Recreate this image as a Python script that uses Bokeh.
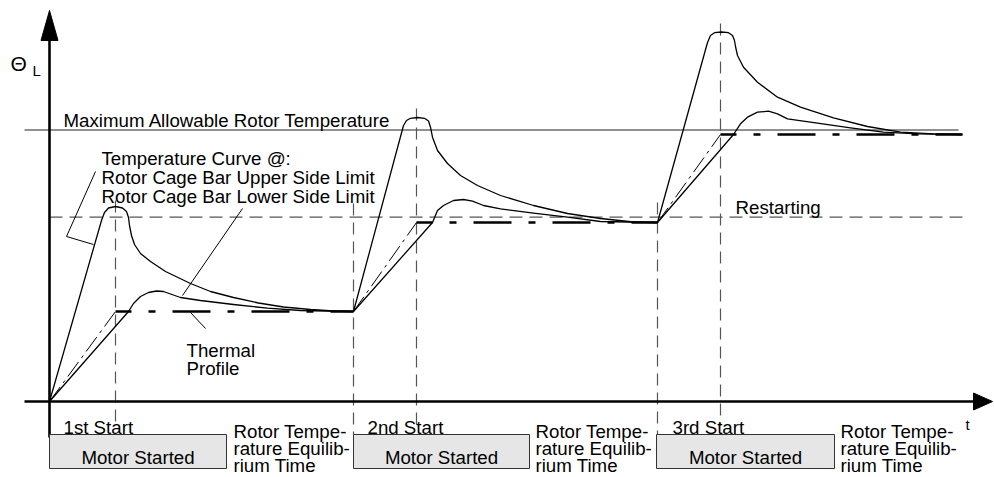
from bokeh.plotting import figure
from bokeh.models import Range1d
from bokeh.core.properties import value
from bokeh.embed import file_html
from bokeh.resources import INLINE

# ---------------- data (t = time units, theta = temperature units) ----------------
phase_start = [0, 304, 608]
phase_end = [66, 367, 671]
equilibrium = [90, 179, 267]
t_final = 911
max_allowable = 271.5
restart_level = 184.3

# Temperature curve, rotor cage bar upper side limit (per start)
upper1_t = [0, 52, 55, 59, 66, 73, 77, 79, 80, 82, 85, 91, 101, 116, 141, 161, 184, 209, 234, 261, 284, 304]
upper1_th = [0, 181, 189, 193.5, 195, 193.5, 190, 184, 176, 166, 157, 148, 140, 130, 118, 110, 104, 98.5, 94.5, 92, 90.5, 90]
upper2_t = [304, 354, 357, 361, 368, 375, 379, 381, 383, 388, 398, 411, 428, 451, 484, 518, 551, 584, 608]
upper2_th = [90, 276, 281, 283.2, 284, 283.2, 280.5, 274.3, 264.3, 251, 238, 226, 216, 206, 196, 188, 183, 179.5, 179]
upper3_t = [608, 658, 661, 665, 672, 679, 683, 685, 686, 688, 694, 708, 728, 751, 784, 818, 851, 884, 911]
upper3_th = [179, 359, 366, 368.8, 369.5, 368.8, 366, 361, 355, 346, 334.3, 319.3, 304.3, 294.3, 283.7, 275, 269.3, 267.7, 267]

# Temperature curve, rotor cage bar lower side limit (per start)
lower1_t = [0, 79, 84, 91, 99, 107, 114, 121, 131, 151, 184, 218, 251, 304]
lower1_th = [0, 90, 98, 105, 109, 110.5, 110, 107.5, 104, 101, 97, 93.3, 91, 90]
lower2_t = [304, 383, 388, 394, 404, 414, 423, 434, 451, 484, 518, 551, 608]
lower2_th = [90, 179, 191, 196, 201, 202, 200.3, 196, 192.7, 188.3, 184.3, 180, 179]
lower3_t = [608, 684, 691, 698, 708, 719, 728, 738, 768, 801, 834, 868, 913]
lower3_th = [179, 267, 277.7, 284.3, 289.3, 290.3, 287.7, 282.7, 278.3, 273.7, 269.3, 267.7, 267]

# guide lines
vguide_t = [66, 304, 367, 608, 671]
vguide_top = [201, 198, 293, 199, 378]
vguide_bottom = [-24, -33, -24, -33, -24]

# pointer lines
ptr_upper_t = [46, 17, 44]
ptr_upper_th = [230, 165, 157]
ptr_lower_t = [193, 133]
ptr_lower_th = [193, 106]
ptr_profile_t = [141, 156]
ptr_profile_th = [89, 73]

# axes geometry
x_axis_from, x_axis_to, x_tip = -25, 924, 943
y_axis_from, y_axis_to, y_tip = -36, 361, 391
head_half = 8.5

# "Motor Started" bars
bar_left = [0, 304, 607]
bar_right = [177, 480, 785]
bar_top, bar_bottom = -33, -67

# texts
curve_labels = ["Temperature Curve @:", "Rotor Cage Bar Upper Side Limit", "Rotor Cage Bar Lower Side Limit"]
curve_label_t = [52, 52, 52]
curve_label_th = [243, 224, 205]
misc_labels = ["Maximum Allowable Rotor Temperature", "Restarting", "Thermal", "Profile",
               "1st Start", "2nd Start", "3rd Start"]
misc_label_t = [14, 686, 137, 137, 14, 318, 623]
misc_label_th = [281, 194, 51, 33, -26, -26, -26]
eq_lines = ["Rotor Tempe-", "rature Equilib-", "rium Time"]
eq_label_t = [184, 486, 791]
eq_line_th = [-30, -47, -64]

FONT = value("Liberation Sans")
FS = "18.7px"

p = figure(width=994, height=477, output_backend="svg", toolbar_location=None,
           x_range=Range1d(-49, 945), y_range=Range1d(-76, 401),
           x_axis_location=None, y_axis_location=None, min_border=0,
           outline_line_color=None, background_fill_color="white", border_fill_color="white")
p.grid.grid_line_color = None

# max allowable & restarting lines
p.line([x_axis_from, 909], [max_allowable, max_allowable], line_color="#222222", line_width=1)
p.line([0, 913], [restart_level, restart_level], line_color="#555555", line_width=1.2, line_dash="13 7")

# vertical guides
for t, top, bot in zip(vguide_t, vguide_top, vguide_bottom):
    p.line([t, t], [top, bot], line_color="#555555", line_width=1.2, line_dash="12 7")

# thermal profile
prev = [0] + equilibrium[:-1]
stops = phase_start[1:] + [913]
for s, e, eq, pv, stp in zip(phase_start, phase_end, equilibrium, prev, stops):
    p.line([s, e], [pv, eq], line_color="black", line_width=1, line_dash="18 5 3 5")
    p.line([e, stp], [eq, eq], line_color="black", line_width=2.6, line_dash="38 17 7 17",
           line_dash_offset=22)

# temperature curves
for xs, ys in [(upper1_t, upper1_th), (upper2_t, upper2_th), (upper3_t, upper3_th),
               (lower1_t, lower1_th), (lower2_t, lower2_th), (lower3_t, lower3_th)]:
    p.line(xs, ys, line_color="black", line_width=1.3, line_join="round")

# pointers
p.line(ptr_upper_t, ptr_upper_th, line_color="black", line_width=1)
p.line(ptr_lower_t, ptr_lower_th, line_color="black", line_width=1)
p.line(ptr_profile_t, ptr_profile_th, line_color="black", line_width=1)

# axes with arrows
p.line([x_axis_from, x_axis_to], [0, 0], line_color="black", line_width=2.6)
p.patch([x_axis_to, x_tip, x_axis_to], [head_half, 0, -head_half], fill_color="black", line_color="black")
p.line([0, 0], [y_axis_from, y_axis_to], line_color="black", line_width=2.6)
p.patch([-head_half, 0, head_half], [y_axis_to, y_tip, y_axis_to], fill_color="black", line_color="black")

# motor started bars
p.quad(left=bar_left, right=bar_right, top=bar_top, bottom=bar_bottom,
       fill_color="#e6e6e6", line_color="#333333", line_width=1)
p.text(x=[(l + r) / 2 for l, r in zip(bar_left, bar_right)], y=[-56] * 3, text=["Motor Started"] * 3,
       text_font=FONT, text_font_size=FS, text_align="center", text_baseline="alphabetic", text_color="black")

# labels
p.text(x=curve_label_t, y=curve_label_th, text=curve_labels, text_font=FONT, text_font_size=FS,
       text_align="left", text_baseline="alphabetic", text_color="black")
p.text(x=misc_label_t, y=misc_label_th, text=misc_labels, text_font=FONT, text_font_size=FS,
       text_align="left", text_baseline="alphabetic", text_color="black")
for t in eq_label_t:
    p.text(x=[t] * 3, y=eq_line_th, text=eq_lines, text_font=FONT, text_font_size=FS,
           text_align="left", text_baseline="alphabetic", text_color="black")

# axis titles
p.text(x=[-39], y=[338], text=["Θ"], text_font=FONT, text_font_size="21px",
       text_align="left", text_baseline="alphabetic", text_color="black")
p.text(x=[-17], y=[331], text=["L"], text_font=FONT, text_font_size="15px",
       text_align="left", text_baseline="alphabetic", text_color="black")
p.text(x=[916], y=[-23], text=["t"], text_font=FONT, text_font_size="15px",
       text_align="left", text_baseline="alphabetic", text_color="black")

open("out.html", "w").write(file_html(p, INLINE))
